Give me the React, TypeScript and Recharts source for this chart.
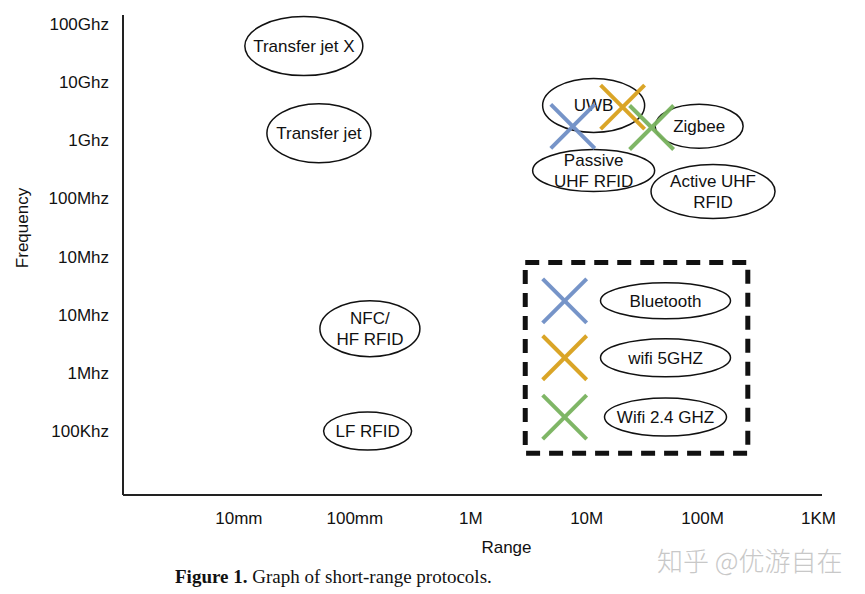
import React from "react"
import { ReferenceArea, Scatter, ScatterChart, XAxis, YAxis } from "recharts"

// axis tick labels (x: decades of range, y: frequency rows from the bottom)
const rangeTicks = [-2, -1, 0, 1, 2, 3]
const rangeLabels = ["10mm", "100mm", "1M", "10M", "100M", "1KM"]
const freqTicks = [0, 1, 2, 3, 4, 5, 6, 7]
const freqLabels = ["100Khz", "1Mhz", "10Mhz", "10Mhz", "100Mhz", "1Ghz", "10Ghz", "100Ghz"]

// protocols shown as ellipses
const protocolNames = [
  "Transfer jet X",
  "Transfer jet",
  "UWB",
  "Zigbee",
  "Passive\nUHF RFID",
  "Active UHF\nRFID",
  "NFC/\nHF RFID",
  "LF RFID",
]
const protocolRange = [-1.44, -1.31, 1.06, 1.97, 1.06, 2.09, -0.87, -0.89]
const protocolFreq = [6.62, 5.12, 5.6, 5.24, 4.48, 4.12, 1.76, 0]

// protocols shown as crosses
const techNames = ["Bluetooth", "wifi 5GHZ", "Wifi 2.4 GHZ"]
const techRange = [0.88, 1.31, 1.56]
const techFreq = [5.24, 5.57, 5.22]

// legend inside the dashed box
const legendMarkRange = 0.81
const legendLabelRange = 1.68
const legendFreq = [2.24, 1.26, 0.24]
const legendBox = { x1: 0.47, x2: 2.39, y1: -0.38, y2: 2.9 }

const techColors = ["#6f8fc6", "#d9a11c", "#79b35e"]

const ellipseSize: Record<string, [number, number]> = {
  "Transfer jet X": [59, 29.5],
  "Transfer jet": [52, 29.5],
  UWB: [51, 27],
  Zigbee: [44, 22],
  "Passive\nUHF RFID": [61, 21],
  "Active UHF\nRFID": [62, 27],
  "NFC/\nHF RFID": [50, 28],
  "LF RFID": [44, 19],
  Bluetooth: [65, 18],
  "wifi 5GHZ": [65, 19],
  "Wifi 2.4 GHZ": [61, 19],
}

const protocols = protocolNames.map((name, i) => ({ name, x: protocolRange[i], y: protocolFreq[i] }))
const techs = techNames.map((name, i) => ({ name, x: techRange[i], y: techFreq[i], color: techColors[i] }))
const legendMarks = techNames.map((name, i) => ({ name, x: legendMarkRange, y: legendFreq[i], color: techColors[i] }))
const legendLabels = techNames.map((name, i) => ({ name, x: legendLabelRange, y: legendFreq[i] }))

const font = "'Liberation Sans', Arial, sans-serif"

const EllipseLabel = (props: any) => {
  const { cx, cy, payload } = props
  const [rx, ry] = ellipseSize[payload.name] || [50, 20]
  const lines = payload.name.split("\n")
  const lh = 21
  const top = cy - ((lines.length - 1) * lh) / 2
  return (
    <g>
      <ellipse cx={cx} cy={cy} rx={rx} ry={ry} fill="none" stroke="#111" strokeWidth={1.5} />
      {lines.map((l: string, i: number) => (
        <text
          key={i}
          x={cx}
          y={top + i * lh}
          dy="0.35em"
          textAnchor="middle"
          fontFamily={font}
          fontSize={17}
          fill="#111"
        >
          {l}
        </text>
      ))}
    </g>
  )
}

const Cross = (props: any) => {
  const { cx, cy, payload } = props
  const s = 22
  return (
    <g stroke={payload.color} strokeWidth={4} opacity={0.95}>
      <line x1={cx - s} y1={cy - s} x2={cx + s} y2={cy + s} />
      <line x1={cx - s} y1={cy + s} x2={cx + s} y2={cy - s} />
    </g>
  )
}

const FrequencyLabel = (props: any) => {
  const { viewBox } = props
  const x = viewBox.x + 22
  const y = viewBox.y + 213
  return (
    <text
      x={x}
      y={y}
      transform={`rotate(-90 ${x} ${y})`}
      textAnchor="middle"
      dy="0.35em"
      fontFamily={font}
      fontSize={17}
      fill="#111"
    >
      Frequency
    </text>
  )
}

const RangeLabel = (props: any) => {
  const { viewBox } = props
  return (
    <text
      x={viewBox.x + viewBox.width / 2 + 34}
      y={viewBox.y + 52}
      dy="0.35em"
      textAnchor="middle"
      fontFamily={font}
      fontSize={17}
      fill="#111"
    >
      Range
    </text>
  )
}

export default function App() {
  return (
    <div
      style={{
        position: "absolute",
        left: 0,
        top: 0,
        width: 865,
        height: 594,
        background: "#fff",
        overflow: "hidden",
      }}
    >
      <ScatterChart width={865} height={594} margin={{ top: 15, right: 43, bottom: 29, left: 0 }}>
        <XAxis
          type="number"
          dataKey="x"
          domain={[-3, 3.03]}
          ticks={rangeTicks}
          tickFormatter={(v: number) => rangeLabels[rangeTicks.indexOf(v)]}
          allowDataOverflow
          height={70}
          tickLine={false}
          tickMargin={11}
          axisLine={{ stroke: "#222", strokeWidth: 2 }}
          tick={{ fill: "#111", fontSize: 17, fontFamily: font }}
          label={<RangeLabel />}
        />
        <YAxis
          type="number"
          dataKey="y"
          domain={[-1.1, 7.155]}
          ticks={freqTicks}
          tickFormatter={(v: number) => freqLabels[freqTicks.indexOf(v)]}
          allowDataOverflow
          width={123}
          tickLine={false}
          tickMargin={8}
          axisLine={{ stroke: "#222", strokeWidth: 2 }}
          tick={{ fill: "#111", fontSize: 17, fontFamily: font }}
          label={<FrequencyLabel />}
        />
        <ReferenceArea
          {...legendBox}
          fill="none"
          stroke="#111"
          strokeWidth={5}
          strokeDasharray="14 9"
          ifOverflow="visible"
        />
        <Scatter data={protocols} shape={<EllipseLabel />} isAnimationActive={false} />
        <Scatter data={legendLabels} shape={<EllipseLabel />} isAnimationActive={false} />
        <Scatter data={techs} shape={<Cross />} isAnimationActive={false} />
        <Scatter data={legendMarks} shape={<Cross />} isAnimationActive={false} />
      </ScatterChart>
      <div
        style={{
          position: "absolute",
          left: 175,
          top: 566,
          fontFamily: "'Liberation Serif', 'Times New Roman', serif",
          fontSize: 19,
          lineHeight: "22px",
          color: "#111",
          whiteSpace: "nowrap",
        }}
      >
        <b>Figure 1.</b> Graph of short-range protocols.
      </div>
      <div
        style={{
          position: "absolute",
          left: 657,
          top: 543,
          fontFamily: "'Noto Sans CJK SC', sans-serif",
          fontSize: 26,
          lineHeight: "34px",
          fontWeight: 300,
          color: "#c8c8c8",
          whiteSpace: "nowrap",
        }}
      >
        知乎 @优游自在
      </div>
    </div>
  )
}
